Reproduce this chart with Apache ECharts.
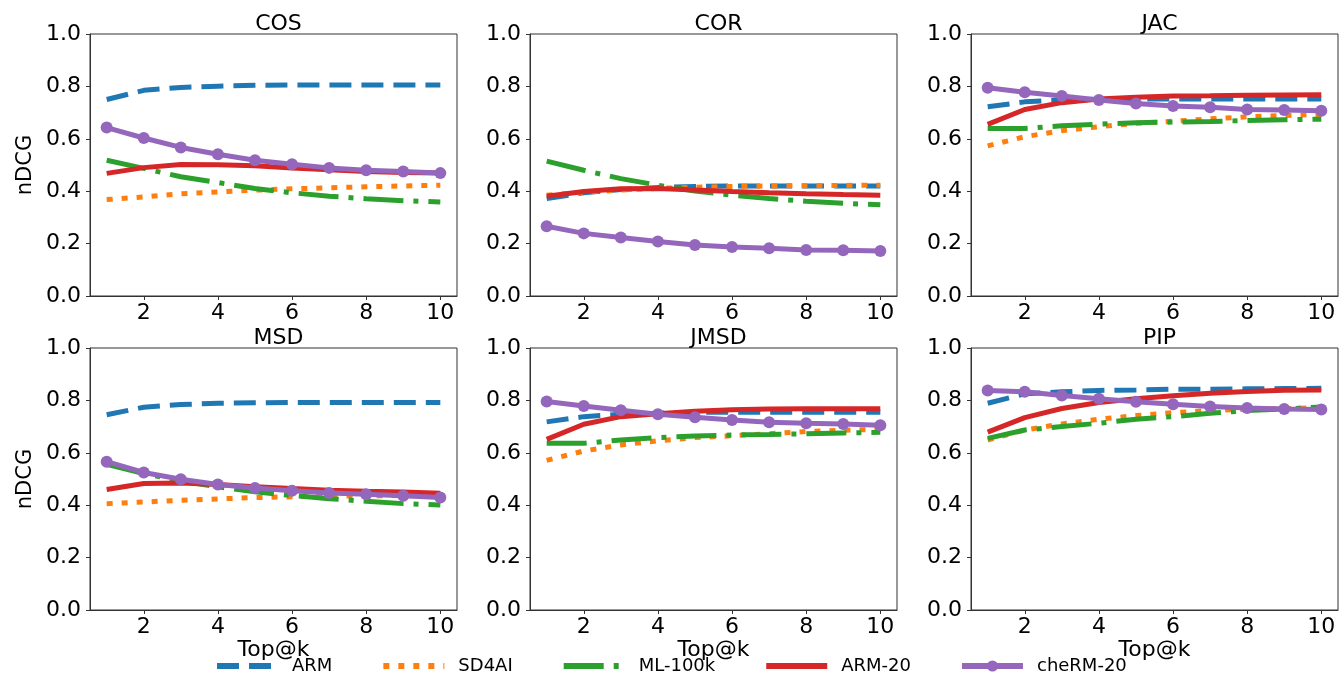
<!DOCTYPE html>
<html>
<head>
<meta charset="utf-8">
<title>nDCG by Top@k</title>
<script src="https://cdn.jsdelivr.net/npm/echarts@6/dist/echarts.min.js"></script>
<style>
  html, body { margin: 0; padding: 0; background: #fff; }
  #chart { width: 1341px; height: 675px; }
</style>
</head>
<body>
<div id="chart"></div>
<script>
// x values and tick labels
var topK = [1, 2, 3, 4, 5, 6, 7, 8, 9, 10];
var xTicks = [2, 4, 6, 8, 10];
var methods = ['ARM', 'SD4AI', 'ML-100k', 'ARM-20', 'cheRM-20'];
var metrics = ['COS', 'COR', 'JAC', 'MSD', 'JMSD', 'PIP'];

// values per metric, rows follow the methods order
var cos = [
  [0.750, 0.785, 0.796, 0.801, 0.804, 0.805, 0.805, 0.805, 0.805, 0.805],
  [0.368, 0.378, 0.390, 0.397, 0.404, 0.409, 0.413, 0.417, 0.420, 0.423],
  [0.518, 0.487, 0.455, 0.433, 0.410, 0.394, 0.381, 0.371, 0.364, 0.359],
  [0.468, 0.490, 0.502, 0.501, 0.497, 0.489, 0.482, 0.475, 0.471, 0.469],
  [0.643, 0.603, 0.567, 0.541, 0.518, 0.503, 0.489, 0.480, 0.475, 0.469]
];
var cor = [
  [0.372, 0.394, 0.406, 0.414, 0.418, 0.420, 0.420, 0.420, 0.420, 0.420],
  [0.385, 0.396, 0.404, 0.411, 0.415, 0.418, 0.420, 0.421, 0.422, 0.423],
  [0.515, 0.480, 0.448, 0.423, 0.401, 0.385, 0.372, 0.362, 0.354, 0.348],
  [0.381, 0.399, 0.409, 0.410, 0.405, 0.399, 0.394, 0.390, 0.387, 0.385],
  [0.266, 0.239, 0.223, 0.208, 0.195, 0.187, 0.182, 0.176, 0.175, 0.172]
];
var jac = [
  [0.722, 0.741, 0.748, 0.751, 0.752, 0.752, 0.752, 0.752, 0.752, 0.752],
  [0.573, 0.608, 0.631, 0.646, 0.659, 0.667, 0.676, 0.684, 0.689, 0.693],
  [0.639, 0.639, 0.650, 0.656, 0.661, 0.664, 0.666, 0.670, 0.673, 0.675],
  [0.655, 0.712, 0.738, 0.752, 0.759, 0.763, 0.764, 0.766, 0.767, 0.768],
  [0.795, 0.778, 0.763, 0.748, 0.735, 0.725, 0.720, 0.712, 0.710, 0.707]
];
var msd = [
  [0.745, 0.774, 0.784, 0.789, 0.791, 0.792, 0.792, 0.792, 0.792, 0.792],
  [0.406, 0.412, 0.419, 0.424, 0.429, 0.432, 0.434, 0.436, 0.437, 0.438],
  [0.556, 0.521, 0.492, 0.470, 0.451, 0.437, 0.425, 0.415, 0.406, 0.401],
  [0.460, 0.483, 0.485, 0.479, 0.470, 0.464, 0.457, 0.453, 0.450, 0.446],
  [0.566, 0.525, 0.499, 0.479, 0.466, 0.455, 0.447, 0.442, 0.436, 0.429]
];
var jmsd = [
  [0.718, 0.738, 0.747, 0.751, 0.754, 0.755, 0.755, 0.755, 0.755, 0.755],
  [0.571, 0.607, 0.630, 0.646, 0.658, 0.665, 0.673, 0.681, 0.686, 0.690],
  [0.636, 0.636, 0.649, 0.658, 0.664, 0.668, 0.670, 0.673, 0.676, 0.678],
  [0.651, 0.709, 0.738, 0.749, 0.759, 0.764, 0.767, 0.768, 0.768, 0.768],
  [0.796, 0.779, 0.762, 0.747, 0.736, 0.725, 0.717, 0.713, 0.710, 0.705]
];
var pip = [
  [0.789, 0.825, 0.833, 0.838, 0.840, 0.843, 0.843, 0.844, 0.845, 0.846],
  [0.649, 0.687, 0.710, 0.728, 0.742, 0.753, 0.761, 0.766, 0.769, 0.772],
  [0.655, 0.687, 0.700, 0.713, 0.728, 0.738, 0.751, 0.761, 0.767, 0.775],
  [0.679, 0.734, 0.769, 0.792, 0.806, 0.818, 0.827, 0.834, 0.839, 0.840],
  [0.838, 0.833, 0.819, 0.806, 0.795, 0.785, 0.777, 0.771, 0.767, 0.765]
];
var panels = [cos, cor, jac, msd, jmsd, pip];

var colors = ['#1f77b4', '#ff7f0e', '#2ca02c', '#d62728', '#9467bd'];
var dashes = [[22, 10], [6, 9], [40, 10, 5, 10], 'solid', 'solid'];
var font = 'DejaVu Sans';

// panel boxes in pixels
var lefts = [90, 530, 971];
var tops = [34, 348];
var W = 367, H = 262;

var grids = [], xAxes = [], yAxes = [], titles = [], series = [];
panels.forEach(function (rows, p) {
  var col = p % 3, row = Math.floor(p / 3);
  grids.push({
    left: lefts[col], top: tops[row], width: W, height: H,
    show: true, borderColor: '#333', borderWidth: 1, backgroundColor: 'transparent'
  });
  titles.push({
    text: metrics[p], left: lefts[col] + W / 2, top: tops[row] - 26, textAlign: 'center',
    textStyle: { fontFamily: font, fontSize: 22, fontWeight: 'normal', color: '#000' }
  });
  xAxes.push({
    gridIndex: p, type: 'value', min: 0.55, max: 10.45,
    name: row === 1 ? 'Top@k' : '', nameLocation: 'middle', nameGap: 26,
    nameTextStyle: { fontFamily: font, fontSize: 22, color: '#000' },
    axisLine: { show: true, lineStyle: { color: '#333', width: 1 } },
    axisTick: { show: true, customValues: xTicks, length: 4, lineStyle: { color: '#333' } },
    axisLabel: { customValues: xTicks, margin: 6, fontFamily: font, fontSize: 22, color: '#000' },
    splitLine: { show: false }
  });
  yAxes.push({
    gridIndex: p, type: 'value', min: 0, max: 1, interval: 0.2,
    name: col === 0 ? 'nDCG' : '', nameLocation: 'middle', nameGap: 54,
    nameTextStyle: { fontFamily: font, fontSize: 21, color: '#000' },
    axisLine: { show: true, lineStyle: { color: '#333', width: 1 } },
    axisTick: { show: true, length: 4, lineStyle: { color: '#333' } },
    axisLabel: {
      margin: 9, fontFamily: font, fontSize: 22, color: '#000',
      formatter: function (v) { return v.toFixed(1); }
    },
    splitLine: { show: false }
  });
  rows.forEach(function (vals, m) {
    var marker = m === 4;
    series.push({
      name: methods[m], type: 'line', xAxisIndex: p, yAxisIndex: p,
      data: topK.map(function (k, i) { return [k, vals[i]]; }),
      symbol: marker ? 'circle' : 'none', symbolSize: 12, showSymbol: marker,
      itemStyle: { color: colors[m] },
      lineStyle: { color: colors[m], width: 5, type: dashes[m], cap: 'butt' },
      animation: false, silent: true
    });
  });
});

// legend items: only cheRM-20 keeps its circle
var legendData = methods.map(function (name, m) {
  return m === 4 ? { name: name } :
    { name: name, itemStyle: { opacity: 0, color: 'rgba(0,0,0,0)', borderWidth: 0 } };
});

var chart = echarts.init(document.getElementById('chart'), null, { renderer: 'canvas' });
chart.setOption({
  backgroundColor: '#fff',
  animation: false,
  title: titles,
  grid: grids,
  xAxis: xAxes,
  yAxis: yAxes,
  legend: {
    data: legendData, left: 214, top: 657, padding: 0, itemWidth: 61, itemHeight: 14, itemGap: 48,
    lineStyle: { width: 6, type: 'inherit', cap: 'butt' },
    textStyle: { fontFamily: font, fontSize: 18, color: '#000', padding: [0, 0, 0, 9] }
  },
  series: series
});
</script>
</body>
</html>
